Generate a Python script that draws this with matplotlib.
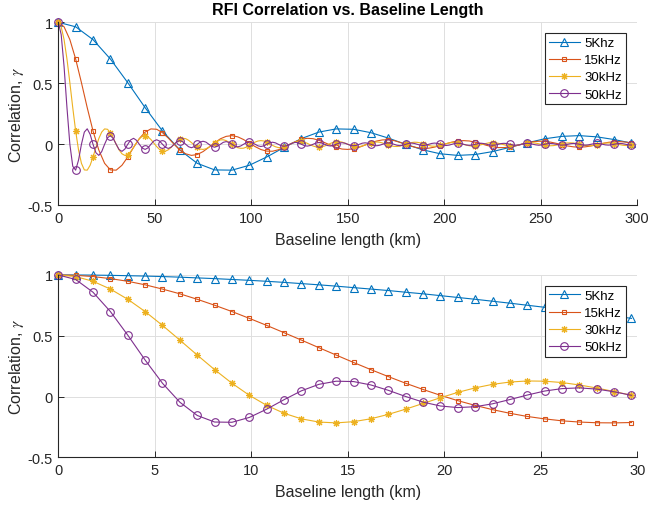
import numpy as np
import matplotlib
matplotlib.use("Agg")
import matplotlib.pyplot as plt

plt.rcParams['font.family'] = ['Liberation Sans', 'DejaVu Sans']
plt.rcParams['mathtext.fontset'] = 'stix'
plt.rcParams['axes.unicode_minus'] = False

# ---- data, top panel (0-300 km) ----
# 5 kHz sampled every 9 km
top_5k = [1.0, 0.963, 0.858, 0.699, 0.505, 0.300, 0.109, -0.047, -0.156, -0.210,
          -0.212, -0.172, -0.104, -0.026, 0.047, 0.100, 0.126, 0.123, 0.095, 0.051,
          0.0, -0.046, -0.078, -0.091, -0.084, -0.060, -0.025, 0.012, 0.045, 0.065,
          0.071, 0.061, 0.039, 0.010]
# 15 kHz sampled every 3 km
top_15k = [1.0, 0.963, 0.858, 0.699, 0.505, 0.300, 0.109, -0.047, -0.156, -0.210,
           -0.212, -0.172, -0.104, -0.026, 0.047, 0.100, 0.126, 0.123, 0.095, 0.051,
           0.0, -0.046, -0.078, -0.091, -0.084, -0.060, -0.025, 0.012, 0.045, 0.065,
           0.071, 0.061, 0.039, 0.010, -0.019, -0.043, -0.056, -0.057, -0.045, -0.025,
           0.0, 0.023, 0.041, 0.049, 0.046, 0.033, 0.014, -0.007, -0.026, -0.039,
           -0.042, -0.037, -0.024, -0.006, 0.012, 0.027, 0.036, 0.037, 0.030, 0.016,
           0.0, -0.016, -0.028, -0.033, -0.032, -0.023, -0.010, 0.005, 0.018, 0.027,
           0.030, 0.027, 0.017, 0.005, -0.009, -0.020, -0.027, -0.027, -0.022, -0.012,
           0.0, 0.012, 0.021, 0.025, 0.024, 0.018, 0.008, -0.004, -0.014, -0.021,
           -0.024, -0.021, -0.014, -0.004, 0.007, 0.016, 0.021, 0.022, 0.018, 0.010]
# 30 kHz sampled every 1.5 km
top_30k = [1.0, 0.963, 0.858, 0.699, 0.505, 0.300, 0.109, -0.047, -0.156, -0.210,
           -0.212, -0.172, -0.104, -0.026, 0.047, 0.100, 0.126, 0.123, 0.095, 0.051,
           0.0, -0.046, -0.078, -0.091, -0.084, -0.060, -0.025, 0.012, 0.045, 0.065,
           0.071, 0.061, 0.039, 0.010, -0.019, -0.043, -0.056, -0.057, -0.045, -0.025,
           0.0, 0.023, 0.041, 0.049, 0.046, 0.033, 0.014, -0.007, -0.026, -0.039,
           -0.042, -0.037, -0.024, -0.006, 0.012, 0.027, 0.036, 0.037, 0.030, 0.016,
           0.0, -0.016, -0.028, -0.033, -0.032, -0.023, -0.010, 0.005, 0.018, 0.027,
           0.030, 0.027, 0.017, 0.005, -0.009, -0.020, -0.027, -0.027, -0.022, -0.012,
           0.0, 0.012, 0.021, 0.025, 0.024, 0.018, 0.008, -0.004, -0.014, -0.021,
           -0.024, -0.021, -0.014, -0.004, 0.007, 0.016, 0.021, 0.022, 0.018, 0.010,
           0.0, -0.010, -0.017, -0.020, -0.019, -0.014, -0.006, 0.003, 0.012, 0.017,
           0.019, 0.017, 0.011, 0.003, -0.006, -0.013, -0.017, -0.018, -0.015, -0.008,
           0.0, 0.008, 0.014, 0.017, 0.016, 0.012, 0.005, -0.003, -0.010, -0.015,
           -0.016, -0.014, -0.009, -0.002, 0.005, 0.011, 0.015, 0.015, 0.012, 0.007,
           0.0, -0.007, -0.012, -0.015, -0.014, -0.010, -0.004, 0.002, 0.008, 0.013,
           0.014, 0.013, 0.008, 0.002, -0.004, -0.010, -0.013, -0.013, -0.011, -0.006,
           0.0, 0.006, 0.011, 0.013, 0.012, 0.009, 0.004, -0.002, -0.007, -0.011,
           -0.012, -0.011, -0.007, -0.002, 0.004, 0.009, 0.011, 0.012, 0.010, 0.005,
           0.0, -0.005, -0.009, -0.011, -0.011, -0.008, -0.004, 0.002, 0.007, 0.010,
           0.011, 0.010, 0.006, 0.002, -0.003, -0.008, -0.010, -0.011, -0.009]
# 50 kHz sampled every 1.5 km
top_50k = [1.0, 0.900, 0.637, 0.300, 0.0, -0.180, -0.212, -0.129, 0.0, 0.100,
           0.127, 0.082, 0.0, -0.069, -0.091, -0.060, 0.0, 0.053, 0.071, 0.047,
           0.0, -0.043, -0.058, -0.039, 0.0, 0.036, 0.049, 0.033, 0.0, -0.031,
           -0.042, -0.029, 0.0, 0.027, 0.037, 0.026, 0.0, -0.024, -0.034, -0.023,
           0.0, 0.022, 0.030, 0.021, 0.0, -0.020, -0.028, -0.019, 0.0, 0.018,
           0.025, 0.018, 0.0, -0.017, -0.024, -0.016, 0.0, 0.016, 0.022, 0.015,
           0.0, -0.015, -0.021, -0.014, 0.0, 0.014, 0.019, 0.013, 0.0, -0.013,
           -0.018, -0.013, 0.0, 0.012, 0.017, 0.012, 0.0, -0.012, -0.016, -0.011,
           0.0, 0.011, 0.016, 0.011, 0.0, -0.011, -0.015, -0.010, 0.0, 0.010,
           0.014, 0.010, 0.0, -0.010, -0.014, -0.009, 0.0, 0.009, 0.013, 0.009,
           0.0, -0.009, -0.012, -0.009, 0.0, 0.009, 0.012, 0.008, 0.0, -0.008,
           -0.012, -0.008, 0.0, 0.008, 0.011, 0.008, 0.0, -0.008, -0.011, -0.008,
           0.0, 0.007, 0.010, 0.007, 0.0, -0.007, -0.010, -0.007, 0.0, 0.007,
           0.010, 0.007, 0.0, -0.007, -0.010, -0.007, 0.0, 0.007, 0.009, 0.006,
           0.0, -0.006, -0.009, -0.006, 0.0, 0.006, 0.009, 0.006, 0.0, -0.006,
           -0.008, -0.006, 0.0, 0.006, 0.008, 0.006, 0.0, -0.006, -0.008, -0.006,
           0.0, 0.006, 0.008, 0.006, 0.0, -0.005, -0.008, -0.005, 0.0, 0.005,
           0.007, 0.005, 0.0, -0.005, -0.007, -0.005, 0.0, 0.005, 0.007, 0.005,
           0.0, -0.005, -0.007, -0.005, 0.0, 0.005, 0.007, 0.005, 0.0, -0.005,
           -0.007, -0.005, 0.0, 0.005, 0.007, 0.005, 0.0, -0.005, -0.006]

# ---- data, bottom panel (0-30 km), sampled every 0.9 km ----
bot_5k = [1.0, 1.000, 0.999, 0.997, 0.994, 0.991, 0.987, 0.982, 0.976, 0.970,
          0.963, 0.956, 0.948, 0.939, 0.929, 0.919, 0.908, 0.896, 0.884, 0.872,
          0.858, 0.845, 0.830, 0.815, 0.800, 0.784, 0.768, 0.751, 0.734, 0.717,
          0.699, 0.680, 0.662, 0.643]
bot_15k = [1.0, 0.997, 0.987, 0.970, 0.948, 0.919, 0.884, 0.845, 0.800, 0.751,
           0.699, 0.643, 0.585, 0.525, 0.464, 0.402, 0.341, 0.280, 0.221, 0.164,
           0.109, 0.058, 0.010, -0.034, -0.073, -0.108, -0.138, -0.164, -0.184, -0.200,
           -0.210, -0.216, -0.217, -0.214]
bot_30k = [1.0, 0.987, 0.948, 0.884, 0.800, 0.699, 0.585, 0.464, 0.341, 0.221,
           0.109, 0.010, -0.073, -0.138, -0.184, -0.210, -0.217, -0.207, -0.183, -0.147,
           -0.104, -0.057, -0.010, 0.034, 0.071, 0.100, 0.119, 0.128, 0.126, 0.115,
           0.095, 0.070, 0.041, 0.010]
bot_50k = [1.0, 0.963, 0.858, 0.699, 0.505, 0.300, 0.109, -0.047, -0.156, -0.210,
           -0.212, -0.172, -0.104, -0.026, 0.047, 0.100, 0.126, 0.123, 0.095, 0.051,
           0.0, -0.046, -0.078, -0.091, -0.084, -0.060, -0.025, 0.012, 0.045, 0.065,
           0.071, 0.061, 0.039, 0.010]

labels = ['5Khz', '15kHz', '30kHz', '50kHz']
colors = ['#0072BD', '#D95319', '#EDB120', '#7E2F8E']
markers = ['^', 's', (8, 2, 0), 'o']
msizes = [5.5, 3.3, 5, 5.5]

top_series = [(top_5k, 9.0, 1), (top_15k, 3.0, 3), (top_30k, 1.5, 6), (top_50k, 1.5, 6)]
bot_series = [(bot_5k, 0.9, 1), (bot_15k, 0.9, 1), (bot_30k, 0.9, 1), (bot_50k, 0.9, 1)]

dark = '#262626'
fig = plt.figure(figsize=(6.49, 5.06), dpi=100)
ax1 = fig.add_axes([0.0898, 0.5923, 0.8921, 0.3617])
ax2 = fig.add_axes([0.0898, 0.0943, 0.8921, 0.3603])


def draw(ax, series, xmax, xticks, leg_top):
    for (y, step, every), lab, c, m, ms in zip(series, labels, colors, markers, msizes):
        x = np.arange(len(y)) * step
        ax.plot(x, y, color=c, lw=0.8, marker=m, ms=ms, mfc='none', mec=c, mew=0.8,
                markevery=every, label=lab, clip_on=False)
    ax.set_xlim(0, xmax)
    ax.set_ylim(-0.5, 1)
    ax.set_xticks(xticks)
    ax.set_yticks([-0.5, 0, 0.5, 1])
    ax.set_yticklabels(['-0.5', '0', '0.5', '1'])
    ax.grid(True, color='#dedede', lw=0.7)
    ax.set_axisbelow(True)
    for s in ['top', 'right']:
        ax.spines[s].set_visible(False)
    for s in ['left', 'bottom']:
        ax.spines[s].set_color(dark)
        ax.spines[s].set_linewidth(0.8)
    ax.tick_params(direction='in', length=4, width=0.7, colors=dark, labelsize=10.5, pad=4)
    ax.set_xlabel('Baseline length (km)', fontsize=11.5, color=dark, labelpad=5.5)
    ax.set_ylabel(r'Correlation, $\gamma$', fontsize=11.5, color=dark, labelpad=0.8)
    leg = ax.legend(loc='upper right', bbox_to_anchor=(0.9805, leg_top), borderaxespad=0,
                    fontsize=9.5, fancybox=False, framealpha=1, edgecolor=dark,
                    borderpad=0.3, labelspacing=0.37, handlelength=2.4, handletextpad=0.3)
    leg.get_frame().set_linewidth(0.8)


draw(ax1, top_series, 300, np.arange(0, 301, 50), 0.9415)
draw(ax2, bot_series, 30, np.arange(0, 31, 5), 0.94)
ax1.set_title('RFI Correlation vs. Baseline Length', fontsize=11.5, fontweight='bold', pad=6)

fig.savefig('out.png', dpi=100)
